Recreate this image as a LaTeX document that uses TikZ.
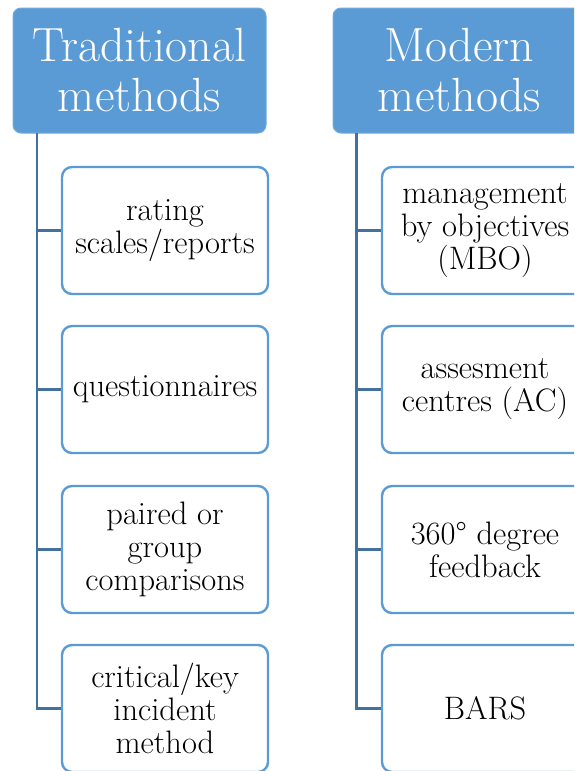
\documentclass[tikz,border=0pt]{standalone}
\usepackage{fontspec}
\definecolor{headfill}{HTML}{5B9BD5}
\definecolor{boxline}{HTML}{5B9BD5}
\definecolor{linkline}{HTML}{41719C}
\tikzset{
  header/.style={draw=headfill!85!white, line width=1pt, fill=headfill, rounded corners=8pt,
    minimum width=253pt, minimum height=125pt, inner sep=0pt, align=center,
    text=white, font=\fontsize{48}{50}\selectfont},
  item/.style={draw=boxline, line width=2.4pt, fill=white, rounded corners=10pt,
    minimum width=206pt, minimum height=127pt, inner sep=0pt, align=center,
    font=\fontsize{32.5}{33}\selectfont},
  link/.style={draw=linkline, line width=2.4pt}
}
\begin{document}
\begin{tikzpicture}[x=1pt,y=1pt]
\useasboundingbox (0,0) rectangle (574,-771);
\clip (0,0) rectangle (574,-771);

% left column
\node[header] (hl) at (139.5,-70.5) {Traditional\\methods};
\node[item] (l1) at (165,-230.5) {rating\\scales/reports};
\node[item] (l2) at (165,-389.5) {questionnaires};
\node[item] (l3) at (165,-549.5) {paired or\\group\\comparisons};
\node[item] (l4) at (165,-708.5) {critical/key\\incident\\method};
\coordinate (sl) at (37,-133);

% right column
\node[header] (hr) at (459.5,-70.5) {Modern\\methods};
\node[item] (r1) at (485,-230.5) {management\\by objectives\\(MBO)};
\node[item] (r2) at (485,-389.5) {assesment\\centres (AC)};
\node[item] (r3) at (485,-549.5) {360° degree\\feedback};
\node[item] (r4) at (485,-708.5) {BARS};
\coordinate (sr) at (356.5,-133);

% spines and branches
\begin{scope}[on background layer/.try]
\draw[link] (sl) |- (l4.west);
\foreach \b in {l1,l2,l3} \draw[link] (sl |- \b.west) -- (\b.west);
\draw[link] (sr) |- (r4.west);
\foreach \b in {r1,r2,r3} \draw[link] (sr |- \b.west) -- (\b.west);
\end{scope}
\end{tikzpicture}
\end{document}
